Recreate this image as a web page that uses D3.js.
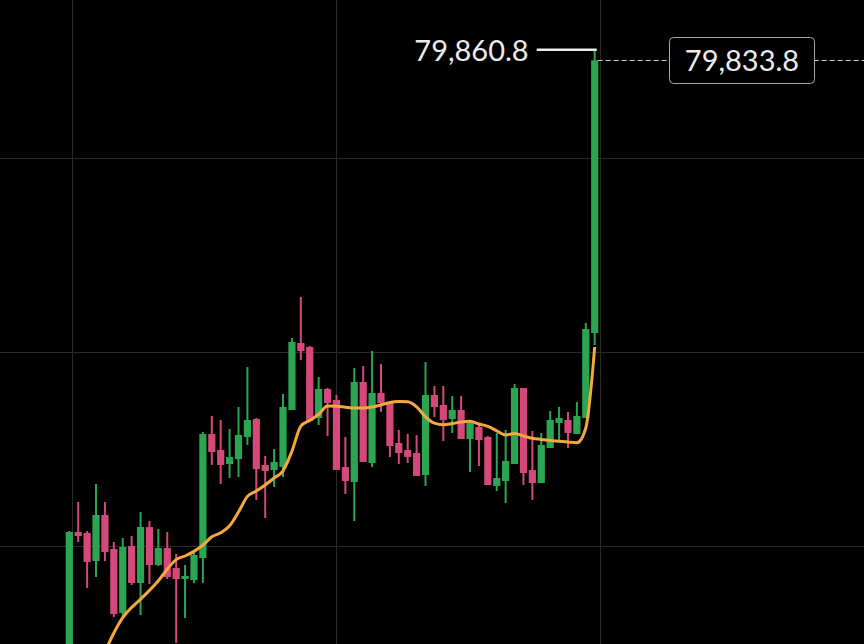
<!DOCTYPE html>
<html><head><meta charset="utf-8">
<script src="https://cdn.jsdelivr.net/npm/d3@7"></script>
<style>html,body{margin:0;padding:0;background:#000;overflow:hidden}svg{display:block}</style>
</head><body><svg id="c" width="864" height="644"></svg>
<script>
const opens = [78335,78655,78652.5,78582.5,78697.5,78612.5,78452.5,78620,78527.5,78667.5,
78572.5,78615,78565,78537.5,78535,78590,78900,78860,78825,78837.5,
78892.5,78937.5,78822.5,78810,78817.5,78960,79127.5,79117.5,78940,79012.5,
78985,78817.5,78780,79030,78827.5,79002.5,78977.5,78877.5,78860,78852.5,
78797.5,78997.5,78972.5,78937.5,78960,78887.5,78917.5,78892.5,78770,78782.5,
78825,79015,78810,78777.5,78865,78927.5,78935,78900,78940,79152.5];
const highs = [78657.5,78730,78657.5,78775,78730,78630,78640,78645,78705,78682.5,
78662.5,78655,78600,78572.5,78602.5,78905,78945,78935,78912.5,78967.5,
79067.5,78940,78845,78862.5,79000,79140,79242.5,79120,79042.5,79015,
78997.5,78892.5,79065,79070,79107.5,79075,78977.5,78910,78900,78897.5,
79080,79020,79020,78995,78995,78935,78925,78895,78902.5,78910,
79025,79015,78907.5,78902.5,78957.5,78967.5,78955,78980,79177.5,79860.8];
const lows = [78310,78630,78515,78542.5,78582.5,78442.5,78445,78522.5,78447.5,78525,
78570,78537.5,78377.5,78440,78527.5,78527.5,78822.5,78775,78790,78792.5,
78872.5,78735,78690,78767.5,78792.5,78960,79085,78930,78922.5,78895,
78810,78750,78682.5,78830,78817.5,78955,78842.5,78825,78827.5,78795,
78770,78942.5,78882.5,78902.5,78887.5,78805,78820,78772.5,78757.5,78727.5,
78825,78772.5,78735,78777.5,78865,78880,78865,78900,78940,79122.5];
const closes = [78655,78645,78580,78697.5,78605,78450,78617.5,78527.5,78667.5,78572.5,
78615,78542.5,78537.5,78545,78597.5,78900,78855,78822.5,78842.5,78897.5,
78935,78812.5,78807.5,78830,78967.5,79130,79107.5,78932.5,79012.5,78977.5,
78810,78782.5,79030,78830,79002.5,78977.5,78870,78852.5,78842.5,78795,
78997.5,78967.5,78935,78960,78887.5,78927.5,78885,78772.5,78790,78832.5,
79015,78802.5,78777.5,78872.5,78935,78940,78902.5,78945,79162.5,79833.8];
const maValues = [null,null,null,null,78355,78402.5,78441,78466.5,78487,78509,
78533,78562,78586,78595,78606.5,78622,78643,78653,78670.5,78705,
78744,78757.5,78772.5,78790,78808,78857,78919.5,78934,78949,78970,
78969.5,78967,78965,78965,78967.5,78972.5,78979,78981,78980.5,78968,
78943,78927,78923,78926,78930,78932,78925,78919,78908,78897.5,
78901.5,78895,78889,78886.5,78884,78882,78880,78878,78915,79117.5];
const gridPrices = [79590, 79105, 78620];
const gridIndices = [0.27, 29.97, 59.63];
const highValue = 79860.8, highLabel = "79,860.8";
const lastValue = 79833.8, lastLabel = "79,833.8";

const W = 864, H = 644;
const svg = d3.select("#c");
svg.append("rect").attr("width", W).attr("height", H).attr("fill", "#000");

const x = d3.scaleLinear().domain([0, 59]).range([69.3, 594.7]);
const y = d3.scaleLinear().domain([78375, 79985]).range([H, 0]);

const UP = "#2ba552", DOWN = "#d4497a";

// grid
svg.append("g").selectAll("line").data(gridPrices).join("line")
  .attr("x1", 0).attr("x2", W).attr("y1", d => Math.round(y(d)) + 0.5).attr("y2", d => Math.round(y(d)) + 0.5)
  .attr("stroke", "#2a2a2a").attr("stroke-width", 1);
svg.append("g").selectAll("line").data(gridIndices).join("line")
  .attr("y1", 0).attr("y2", H).attr("x1", d => Math.round(x(d)) + 0.5).attr("x2", d => Math.round(x(d)) + 0.5)
  .attr("stroke", "#2a2a2a").attr("stroke-width", 1);

const idx = d3.range(opens.length);
const g = svg.append("g");
g.selectAll("line.w").data(idx).join("line").attr("class", "w")
  .attr("x1", i => x(i)).attr("x2", i => x(i))
  .attr("y1", i => y(highs[i])).attr("y2", i => y(lows[i]))
  .attr("stroke", i => closes[i] >= opens[i] ? UP : DOWN).attr("stroke-width", 2);
g.selectAll("rect.b").data(idx).join("rect").attr("class", "b")
  .attr("x", i => x(i) - 3.6).attr("width", 7.2)
  .attr("y", i => y(Math.max(opens[i], closes[i])))
  .attr("height", i => Math.max(1.5, Math.abs(y(opens[i]) - y(closes[i]))))
  .attr("fill", i => closes[i] >= opens[i] ? UP : DOWN);

// moving average
const line = d3.line().defined(d => d != null).x((d, i) => x(i)).y(d => y(d)).curve(d3.curveMonotoneX);
svg.append("path").datum(maValues).attr("d", line)
  .attr("fill", "none").attr("stroke", "#f4a93c").attr("stroke-width", 3).attr("stroke-linejoin", "round");

// last price dashed line
const ly = y(lastValue);
svg.append("line").attr("x1", x(59) + 3).attr("x2", W).attr("y1", ly).attr("y2", ly)
  .attr("stroke", "#d0d0d0").attr("stroke-width", 1).attr("stroke-dasharray", "5,3");
svg.append("rect").attr("x", 669.5).attr("y", ly - 23).attr("width", 145).attr("height", 46)
  .attr("rx", 4).attr("fill", "#000").attr("stroke", "#a8a8a8").attr("stroke-width", 1);
svg.append("text").attr("x", 742).attr("y", ly + 11).attr("text-anchor", "middle")
  .attr("font-family", "Lato, 'Open Sans', sans-serif").attr("font-size", 29).attr("fill", "#ececec")
  .text(lastLabel);

// high marker
const hy = y(highValue);
svg.append("line").attr("x1", x(59) - 58).attr("x2", x(59) + 2).attr("y1", hy).attr("y2", hy)
  .attr("stroke", "#ececec").attr("stroke-width", 2.5);
svg.append("text").attr("x", x(59) - 66).attr("y", hy + 11).attr("text-anchor", "end")
  .attr("font-family", "Lato, 'Open Sans', sans-serif").attr("font-size", 29).attr("fill", "#ececec")
  .text(highLabel);
</script></body></html>
